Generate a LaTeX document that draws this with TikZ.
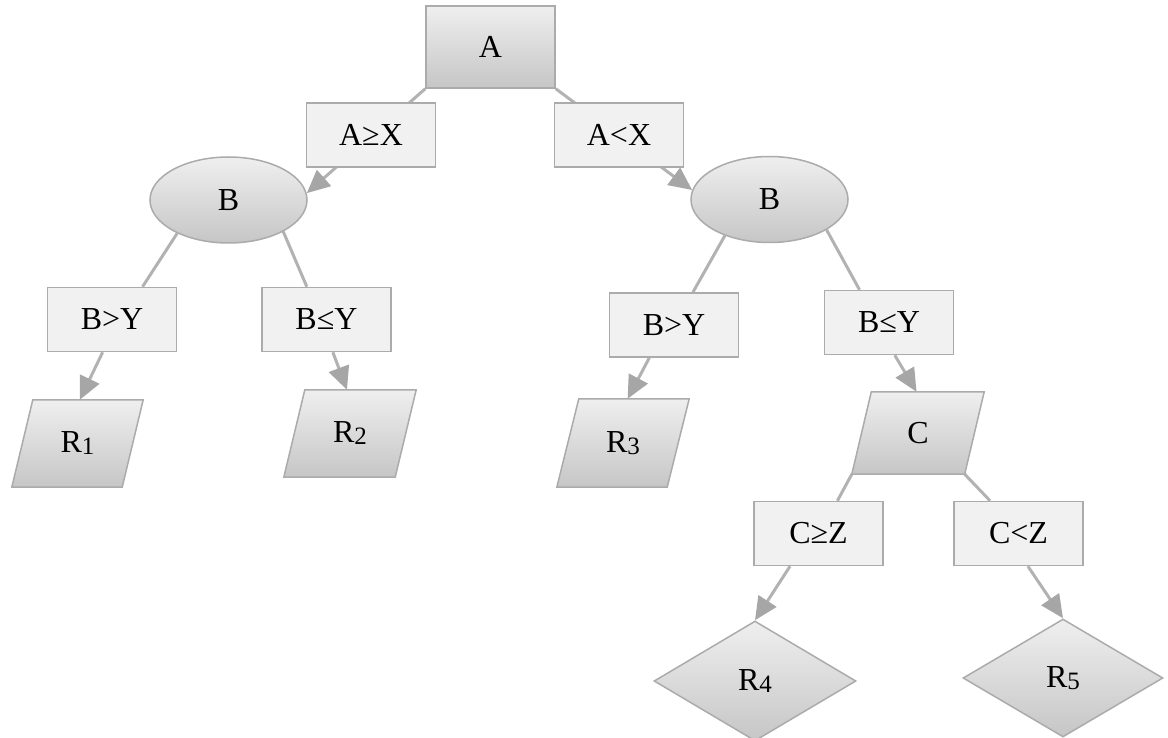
\documentclass[tikz,border=0pt]{standalone}
\usepackage{fontspec}
\setmainfont{Liberation Serif}
\usetikzlibrary{shapes.geometric,arrows.meta,calc,backgrounds}

\definecolor{edgegray}{HTML}{ABABAB}
\definecolor{linegray}{HTML}{B2B2B2}
\definecolor{tipgray}{HTML}{A6A6A6}
\definecolor{boxfill}{HTML}{F1F1F1}
\definecolor{shadetop}{HTML}{EFEFEF}
\definecolor{shadebot}{HTML}{C6C6C6}

% result label with a small lowered index
\newcommand{\rsub}[2]{#1\raisebox{-2pt}{\fontsize{25}{25}\selectfont #2}}

\begin{document}
\begin{tikzpicture}[x=1pt,y=-1pt,
  every node/.style={font=\fontsize{32}{36}\selectfont, inner sep=0pt},
  cond/.style={rectangle, draw=edgegray, line width=1.5pt, fill=boxfill,
    minimum width=129pt, minimum height=64pt},
  graded/.style={draw=edgegray, line width=1.5pt, top color=shadetop, bottom color=shadebot},
  rootbox/.style={graded, rectangle, minimum width=129pt, minimum height=82pt},
  oval/.style={graded, ellipse, minimum width=157pt, minimum height=86pt},
  leaf/.style={graded, diamond, minimum width=202pt, minimum height=120pt},
  slanted/.style={rectangle, minimum height=87pt},
  link/.style={draw=linegray, line width=3pt},
  arrow/.style={link, -{Triangle[length=23pt,width=21pt,color=tipgray]}}
]
\useasboundingbox (0,0) rectangle (1168,738);

% decision nodes
\node[rootbox] (A) at (490.5,47) {A};
\node[cond] (AX1) at (371,135) {A≥X};
\node[cond] (AX2) at (619,135) {A<X};
\node[oval] (B1) at (228.5,200) {B};
\node[oval] (B2) at (769.5,199.5) {B};
\node[cond] (L1) at (112,319.5) {B>Y};
\node[cond] (L2) at (326.5,319.5) {B≤Y};
\node[cond] (L3) at (674,325) {B>Y};
\node[cond] (L4) at (889,322.5) {B≤Y};
\node[cond] (L5) at (818.5,533.5) {C≥Z};
\node[cond] (L6) at (1018.5,533.5) {C<Z};

% slanted nodes (outline drawn on the background layer)
\node[slanted, minimum width=131pt] (R1) at (77.5,443.5) {\rsub{R}{1}};
\node[slanted, minimum width=132pt] (R2) at (350,433.5) {\rsub{R}{2}};
\node[slanted, minimum width=132pt, minimum height=88pt] (R3) at (623,443) {\rsub{R}{3}};
\node[slanted, minimum width=132pt, minimum height=82pt] (C) at (918,433) {C};

% final results
\node[leaf] (R4) at (755,681) {\rsub{R}{4}};
\node[leaf, minimum width=200pt, minimum height=118pt] (R5) at (1063,678) {\rsub{R}{5}};

\begin{scope}[on background layer]
  % connectors
  \draw[arrow] (A.south west) -- (B1.5);
  \draw[arrow] (A.south east) -- (B2.173);
  \draw[link] (B1.213) -- (L1.47);
  \draw[link] (B1.330) -- (L2.121);
  \draw[arrow] (L1.254) -- (R1.87);
  \draw[arrow] (L2.281) -- (R2.94);
  \draw[link] (B2.219) -- (L3.60);
  \draw[link] (B2.332) -- (L4.132);
  \draw[arrow] (L3.233) -- (R3.84);
  \draw[arrow] (L4.280) -- (C.92);
  \draw[link] (C.south west) -- (L5.60);
  \draw[link] ($(C.south east)-(19.5,0)$) -- (L6.131);
  \draw[arrow] (L5.229) -- (R4.north);
  \draw[arrow] (L6.286) -- (R5.north);
  % parallelogram outlines
  \foreach \n/\s in {R1/21,R2/21,R3/22,C/19.5}
    \path[graded] (\n.south west) -- ($(\n.south east)-(\s,0)$)
      -- (\n.north east) -- ($(\n.north west)+(\s,0)$) -- cycle;
\end{scope}
\end{tikzpicture}
\end{document}
